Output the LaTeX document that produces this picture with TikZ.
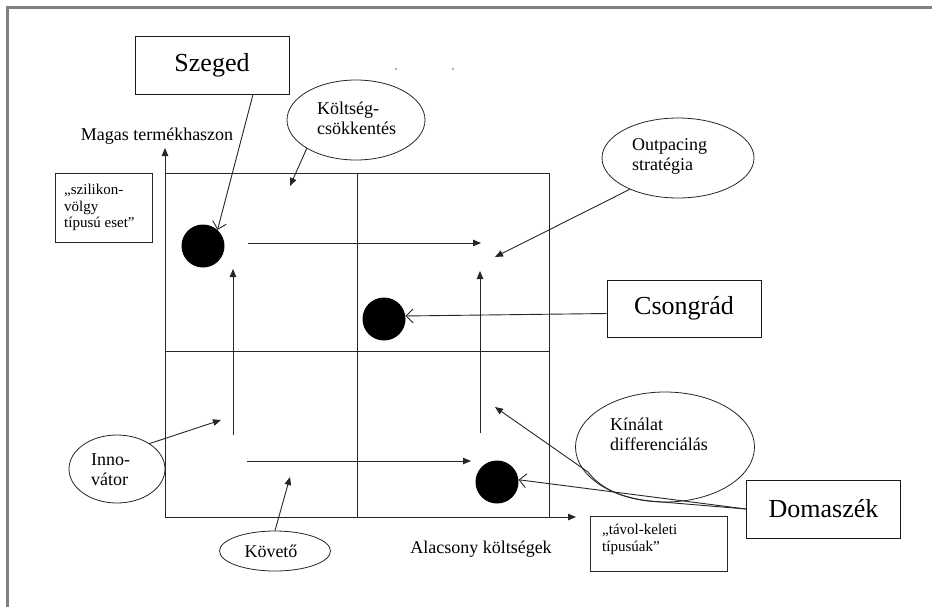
\documentclass[tikz,border=0pt]{standalone}
\usepackage{fontspec}
\setmainfont{Liberation Serif}
\usetikzlibrary{arrows.meta,shapes.geometric,calc}
\begin{document}
\begin{tikzpicture}[x=1pt,y=-1pt,
  ln/.style={draw=black!85,line width=0.9pt},
  farr/.style={ln,-{Triangle[length=8pt,width=6.5pt]}},
  oarr/.style={ln,-{Straight Barb[length=7pt,width=14pt,line width=0.9pt]}},
  bigbox/.style={draw=black!90,line width=1pt,inner sep=0pt,minimum width=154pt,minimum height=58pt,font=\fontsize{26}{30}\selectfont},
  smallbox/.style={draw=black!85,line width=0.9pt,inner sep=0pt},
  oval/.style={ellipse,draw=black!85,line width=0.8pt,inner sep=0pt},
  ovaltext/.style={align=left,inner sep=0pt,font=\fontsize{18}{20}\selectfont},
  smalltext/.style={align=left,inner sep=0pt,font=\fontsize{15}{16.5}\selectfont},
  axtext/.style={inner sep=0pt,font=\fontsize{18}{20}\selectfont},
  dot/.style={circle,fill=black,minimum size=43pt,inner sep=0pt}]
\useasboundingbox (0,0) rectangle (932,606);
% outer frame
\draw[draw=black!50,line width=3pt] (7.5,607) -- (7.5,7.2) -- (933,7.2);
% specks
\fill[black!60] (396,69) circle (0.9);
\fill[black!60] (453,69) circle (0.9);
% grid
\draw[ln] (165,173) -- (549,173) -- (549,517);
\draw[ln] (357,173) -- (357,517);
\draw[ln] (165,351) -- (549,351);
\coordinate (origin) at (165,517);
\coordinate (ytip) at (165,148);
\coordinate (xtip) at (576,517);
\draw[farr] (origin) -- (ytip);
\draw[farr] (origin) -- (xtip);
% axis labels
\node[axtext] (magas) at (157,136) {Magas termékhaszon};
\node[axtext] (alac) at (481,549) {Alacsony költségek};
% boxes
\node[bigbox] (sz) at (212,65) {Szeged};
\node[bigbox,minimum height=57pt] (cs) at (684,308.5) {Csongrád};
\node[bigbox] (dom) at (823.5,509) {Domaszék};
\node[smallbox,minimum width=97pt,minimum height=69pt] (szil) at (103.5,207.5) {};
\node[smalltext,anchor=west] (sziltxt) at (64,207.5) {„szilikon-\\völgy\\típusú eset”};
\node[smallbox,minimum width=137pt,minimum height=55pt] (tav) at (658.5,543.5) {};
\node[smalltext,anchor=north west] (tavtxt) at (602,524) {„távol-keleti\\típusúak”};
% ovals
\node[oval,minimum width=138pt,minimum height=80pt] (kolt) at (356,120) {};
\node[ovaltext,anchor=west] (kolttxt) at (317,118) {Költség-\\csökkentés};
\node[oval,minimum width=152pt,minimum height=80pt] (outp) at (678,158) {};
\node[ovaltext,anchor=west] (outptxt) at (632,156) {Outpacing\\stratégia};
\node[oval,minimum width=96pt,minimum height=68pt] (inno) at (117,469) {};
\node[ovaltext,anchor=west] (innotxt) at (91,470) {Inno-\\vátor};
\node[oval,minimum width=111pt,minimum height=40pt] (kov) at (275,551) {};
\node[ovaltext] (kovtxt) at (271,551) {Követő};
\node[oval,minimum width=179pt,minimum height=110pt] (kin) at (665,447) {};
\node[ovaltext,anchor=west] (kintxt) at (610,434) {Kínálat\\differenciálás};
% dots
\node[dot] (d1) at (203,246) {};
\node[dot] (d2) at (384,319) {};
\node[dot] (d3) at (497,482) {};
% free arrow ends
\coordinate (c1) at (290,186);
\coordinate (c2) at (495,257);
\coordinate (c3) at (221,420);
\coordinate (c4) at (290,477);
\coordinate (c5) at (495,407);
\coordinate (h1s) at (248,243);
\coordinate (h1e) at (481,243);
\coordinate (h2s) at (247,461);
\coordinate (h2e) at (471,461);
\coordinate (v1s) at (233,435);
\coordinate (v1e) at (233,269);
\coordinate (v2s) at (480,433);
\coordinate (v2e) at (480,271);
% strategy arrows
\draw[farr] (h1s) -- (h1e);
\draw[farr] (h2s) -- (h2e);
\draw[farr] (v1s) -- (v1e);
\draw[farr] (v2s) -- (v2e);
\draw[farr] (kolt.-150) -- (c1);
\draw[farr] (outp.-147) -- (c2);
\draw[farr] (inno.38) -- (c3);
\draw[farr] (kov.north) -- (c4);
\draw[farr] (dom.west) -- (650,501) .. controls (615,497) and (598,485) .. (588,472) -- (c5);
% city arrows
\draw[oarr] ([xshift=41pt]sz.south) -- (d1.48);
\draw[oarr] ([yshift=-5pt]cs.west) -- (d2.8);
\draw[oarr] (dom.west) -- (d3.6);
\end{tikzpicture}
\end{document}
